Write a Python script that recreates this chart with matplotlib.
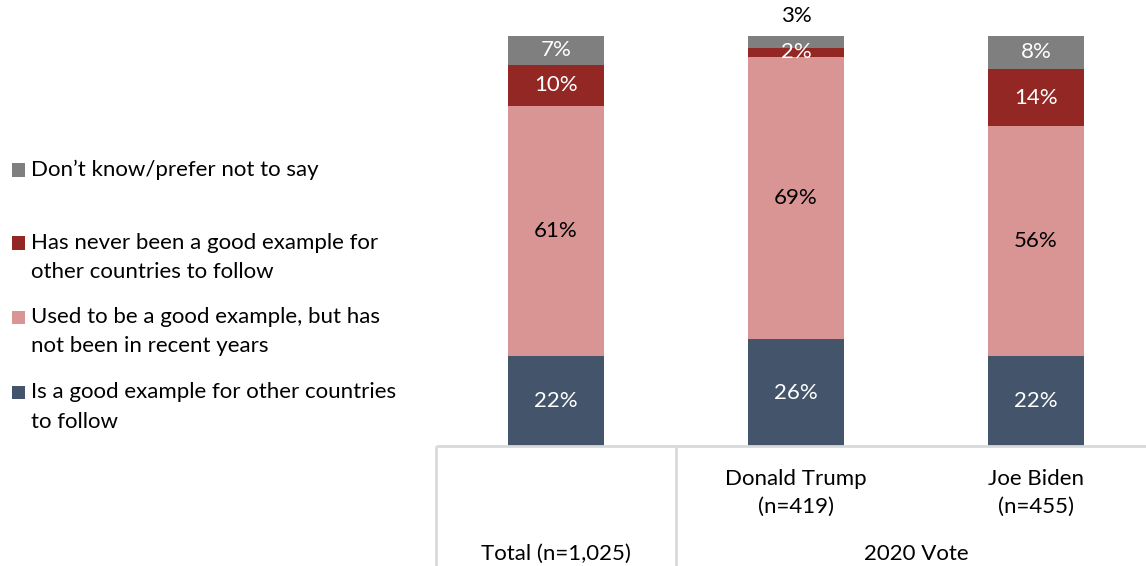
import numpy as np
import matplotlib.pyplot as plt
from matplotlib.patches import Rectangle

OUTPUT_PLOT_FILE = "out.png"

# Dados (percentuais)
categories = ["Total (n=1,025)", "Donald Trump\n(n=419)", "Joe Biden\n(n=455)"]
group_label = "2020 Vote"
good_example = [22, 26, 22]
used_to_be = [61, 69, 56]
never_been = [10, 2, 14]
dont_know = [7, 3, 8]

series_names = [
    "Is a good example for other countries\nto follow",
    "Used to be a good example, but has\nnot been in recent years",
    "Has never been a good example for\nother countries to follow",
    "Don\u2019t know/prefer not to say",
]
series_colors = ["#44546a", "#d99594", "#922724", "#7f7f7f"]
label_colors = ["white", "black", "white", "white"]

FONT = "Lato"
FS = 16
W, H = 1146, 566


def px_to_fig(x, y):
    return x / W, 1 - y / H


def plot_chart():
    fig = plt.figure(figsize=(W / 100, H / 100), dpi=100)
    plt.rcParams['font.family'] = [FONT, 'DejaVu Sans']

    # eixo: barras de 436 a 1146 px, base em 446 px, topo (100%) em 36 px
    left, right, base, top = 436, 1146, 446, 36
    ax = fig.add_axes([left / W, (H - base) / H, (right - left) / W, (base - top) / H])
    ax.set_xlim(-0.5, -0.5 + (right - left) / 240)
    ax.set_ylim(0, 100)
    ax.axis("off")

    x = np.arange(len(categories))
    series = [good_example, used_to_be, never_been, dont_know]
    bottom = np.zeros(len(categories))
    for vals, color, lc in zip(series, series_colors, label_colors):
        vals = np.array(vals, dtype=float)
        ax.bar(x, vals, bottom=bottom, width=0.4, color=color, edgecolor="none")
        for xi, b, v in zip(x, bottom, vals):
            if v >= 2 and not (color == "#7f7f7f" and v < 5):
                ax.text(xi, b + v / 2, f"{v:.0f}%", ha="center", va="center",
                        color=lc, fontsize=FS)
            elif v > 0:
                # segmento pequeno: rótulo acima da barra
                ax.text(xi, b + v + 4.8, f"{v:.0f}%", ha="center", va="center",
                        color="black", fontsize=FS)
        bottom += vals

    # tabela de categorias abaixo das barras
    ypx = 100 / (base - top)  # unidades por pixel
    y_bottom = -(H - base) * ypx
    line_kw = dict(color="#d9d9d9", lw=2, clip_on=False, solid_capstyle="butt")
    ax.plot([-0.5, 2.6], [0, 0], **line_kw)
    for xv in [-0.5, 0.5, 2.5]:
        ax.plot([xv, xv], [0, y_bottom], **line_kw)

    row1 = -(493 - base) * ypx
    row2 = -(554 - base) * ypx
    ax.text(x[0], row2, categories[0], ha="center", va="center", fontsize=FS)
    for xi, cat in zip(x[1:], categories[1:]):
        ax.text(xi, row1, cat, ha="center", va="center", fontsize=FS, linespacing=1.5)
    ax.text(x[1:].mean(), row2, group_label, ha="center", va="center", fontsize=FS)

    # legenda manual
    legend_items = list(zip(series_names, series_colors))[::-1]
    first_line_y = [170, 243, 317, 392]
    for (name, color), y0 in zip(legend_items, first_line_y):
        fx, fy = px_to_fig(12, y0 + 6.5)
        fig.add_artist(Rectangle((fx, fy), 13 / W, 13 / H, transform=fig.transFigure,
                                 color=color, lw=0))
        for i, line in enumerate(name.split("\n")):
            tx, ty = px_to_fig(31, y0 + i * 29.5)
            fig.text(tx, ty, line, ha="left", va="center", fontsize=FS)

    fig.savefig(OUTPUT_PLOT_FILE, dpi=100)


def main():
    plot_chart()


if __name__ == "__main__":
    main()
